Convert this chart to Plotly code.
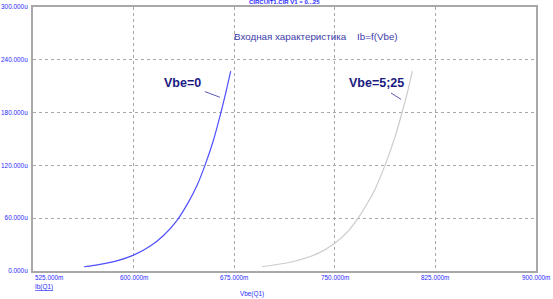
import plotly.graph_objects as go

# Data (Vbe in mV, Ib in uA)
vbe0_x = [563, 575, 587.4, 600, 612.2, 622.1, 632.1, 640.8, 647.5, 653.2, 659.4, 664.9, 668.8, 672.4]
vbe0_y = [4.8, 7.6, 11.5, 18, 28, 40, 57, 78, 98, 120, 148, 179, 203, 227]
vbe25_x = [695.7, 717.6, 737.5, 749.9, 759.8, 767.3, 773.5, 780, 787.4, 795, 800.3, 804.5, 807.8]
vbe25_y = [4.8, 10.2, 20, 31.5, 45, 60, 75, 93, 120, 153, 181, 205, 227]

x_ticks = [525, 600, 675, 750, 825, 900]
x_tick_labels = ["525.000m", "600.000m", "675.000m", "750.000m", "825.000m", "900.000m"]
y_ticks = [0, 60, 120, 180, 240, 300]
y_tick_labels = ["0.000u", "60.000u", "120.000u", "180.000u", "240.000u", "300.000u"]

FONT = "Liberation Sans, Arial, sans-serif"
TICK_BLUE = "#2a2aff"
TS = 6.4

fig = go.Figure()
fig.add_trace(go.Scatter(x=vbe0_x, y=vbe0_y, mode="lines",
                         line=dict(color="#4f4fff", width=1.2, shape="spline", smoothing=0.8), showlegend=False))
fig.add_trace(go.Scatter(x=vbe25_x, y=vbe25_y, mode="lines",
                         line=dict(color="#cccccc", width=1.2, shape="spline", smoothing=0.8), showlegend=False))

fig.update_layout(
    width=553, height=299,
    margin=dict(l=33, r=17, t=7, b=28),
    paper_bgcolor="white", plot_bgcolor="white",
    font=dict(family=FONT),
    xaxis=dict(range=[525, 900], tickvals=x_ticks, ticktext=[""] * len(x_ticks),
               showgrid=True, gridcolor="#a8a8a8", griddash="dot", gridwidth=1,
               showline=True, linecolor="#a8a8a8", linewidth=2, mirror=True,
               zeroline=False, ticks="", fixedrange=True, automargin=False),
    yaxis=dict(range=[0, 300], tickvals=y_ticks, ticktext=y_tick_labels,
               showgrid=True, gridcolor="#a8a8a8", griddash="dot", gridwidth=1,
               showline=True, linecolor="#a8a8a8", linewidth=2, mirror=True,
               zeroline=False, ticks="", ticklabelstandoff=2, automargin=False,
               tickfont=dict(size=TS, color=TICK_BLUE, family=FONT), fixedrange=True),
)

# x tick labels
for i, (v, t) in enumerate(zip(x_ticks, x_tick_labels)):
    fig.add_annotation(x=v, y=0, xref="x", yref="paper", text=t, showarrow=False,
                       xanchor="left" if i == 0 else "center", yanchor="top", yshift=-1,
                       font=dict(size=TS, color=TICK_BLUE, family=FONT))

# header
fig.add_annotation(x=(284 - 33) / 503, y=1, xref="paper", yref="paper", text="<b>CIRCUIT1.CIR V1 = 0...25</b>",
                   showarrow=False, yanchor="bottom", font=dict(size=6, color=TICK_BLUE, family=FONT))

# title
fig.add_annotation(x=(316 - 33) / 503, y=(271 - 29) / 264, xref="paper", yref="paper",
                   text="Входная характеристика    Ib=f(Vbe)", showarrow=False,
                   font=dict(size=9.8, color="#3a3aa8", family=FONT))

# axis names
fig.add_annotation(x=0, y=0, xref="paper", yref="paper", text="<u>Ib(Q1)</u>", showarrow=False,
                   xanchor="left", yanchor="top", yshift=-10, font=dict(size=TS, color=TICK_BLUE, family=FONT))
fig.add_annotation(x=(252 - 33) / 503, y=0, xref="paper", yref="paper", text="Vbe(Q1)", showarrow=False,
                   xanchor="center", yanchor="top", yshift=-17, font=dict(size=TS, color=TICK_BLUE, family=FONT))

# curve labels
fig.add_annotation(x=664.4, y=197.4, xref="x", yref="y", text="<b>Vbe=0</b>", showarrow=True,
                   arrowhead=0, arrowwidth=1, arrowcolor="#5a5ab0", ax=-37, ay=-14,
                   startstandoff=2, font=dict(size=12.5, color="#1a1a80", family=FONT))
fig.add_annotation(x=799.4, y=195, xref="x", yref="y", text="<b>Vbe=5;25</b>", showarrow=True,
                   arrowhead=0, arrowwidth=1, arrowcolor="#5a5ab0", ax=-25, ay=-16,
                   startstandoff=2, font=dict(size=12.5, color="#1a1a80", family=FONT))

fig.write_html("out.html")
